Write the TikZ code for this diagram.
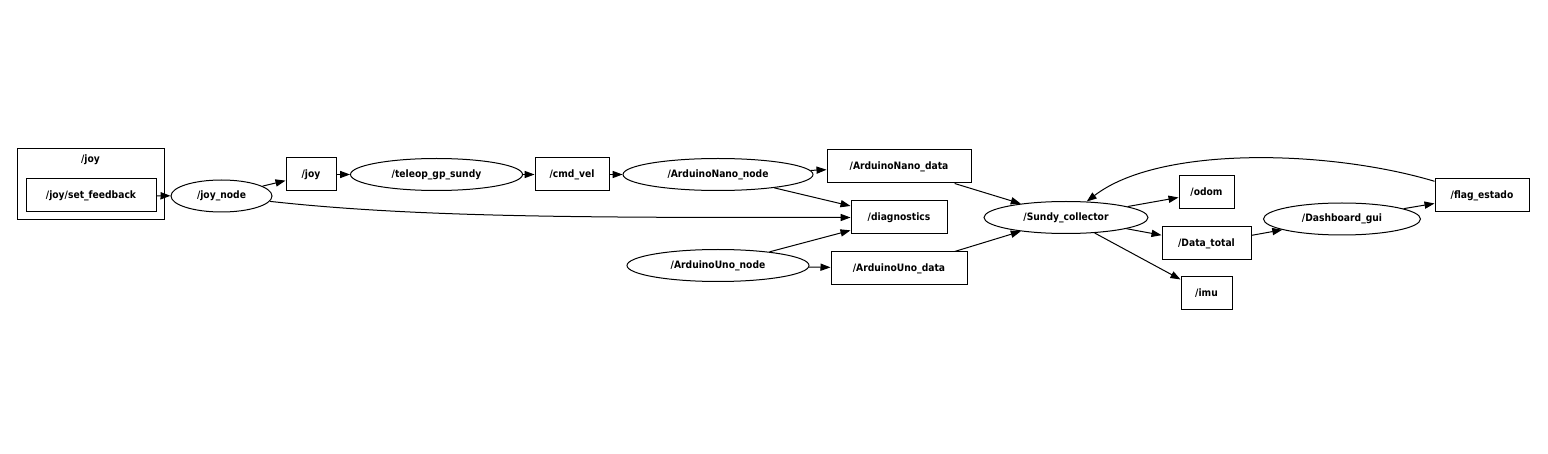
\documentclass[tikz,border=0pt]{standalone}
\usepackage{fontspec}
\setmainfont{DejaVu Sans Condensed}
\usepackage{tikz}
\usetikzlibrary{positioning}
\usetikzlibrary{arrows.meta}
\usetikzlibrary{shapes.geometric}
\tikzset{basic/.style={draw,line width=0.5pt,inner sep=0pt,font=\fontsize{5.1}{6}\selectfont\bfseries}}
\tikzset{topic/.style={basic,rectangle,minimum height=16.5pt}}
\tikzset{rosnode/.style={basic,ellipse,minimum height=16pt}}
\tikzset{cluster/.style={draw,line width=0.5pt,rectangle,inner sep=0pt}}
\tikzset{link/.style={draw,line width=0.5pt,-{Triangle[length=5pt,width=3.6pt]}}}

\begin{document}
\begin{tikzpicture}[x=0.5pt,y=-0.5pt]
        \useasboundingbox (0,0) rectangle (1548,454);
        % joy group
        \node[cluster,minimum width=73.5pt,minimum height=35.5pt] (joy_group) at (90.5,184.5) {};
        \node[font=\fontsize{5.1}{6}\selectfont\bfseries] (joy_label) at (90.5,160) {/joy};
        \node[topic,minimum width=65pt] (set_feedback) at (91,195.5) {/joy/set\_feedback};
        \node[rosnode,minimum width=50.5pt] (joy_node) at (221.5,196) {/joy\_node};
        \node[topic,minimum width=25pt] (joy) at (311,174.5) {/joy};
        \node[rosnode,minimum width=86pt] (teleop) at (436.5,174.5) {/teleop\_gp\_sundy};
        \node[topic,minimum width=37pt] (cmd_vel) at (572,174.5) {/cmd\_vel};
        \node[rosnode,minimum width=95pt] (nano_node) at (718,174.5) {/ArduinoNano\_node};
        \node[topic,minimum width=72pt] (nano_data) at (899,166.5) {/ArduinoNano\_data};
        \node[topic,minimum width=48pt] (diagnostics) at (899,217.5) {/diagnostics};
        \node[rosnode,minimum width=91pt] (uno_node) at (718,265.5) {/ArduinoUno\_node};
        \node[topic,minimum width=68pt] (uno_data) at (899,268.5) {/ArduinoUno\_data};
        \node[rosnode,minimum width=82pt] (collector) at (1066,217.5) {/Sundy\_collector};
        \node[topic,minimum width=27.5pt] (odom) at (1206.5,192.5) {/odom};
        \node[topic,minimum width=44.5pt] (data_total) at (1206.5,243.5) {/Data\_total};
        \node[topic,minimum width=25.5pt] (imu) at (1206.5,293.5) {/imu};
        \node[rosnode,minimum width=78.5pt] (dashboard) at (1342,219) {/Dashboard\_gui};
        \node[topic,minimum width=47pt] (flag) at (1482,195.5) {/flag\_estado};
            \path[link] (set_feedback) -- (joy_node);
            \path[link] (joy_node) -- (joy);
            \path[link] (joy) -- (teleop);
            \path[link] (teleop) -- (cmd_vel);
            \path[link] (cmd_vel) -- (nano_node);
            \path[link] (nano_node) -- (nano_data);
            \path[link] (nano_node) -- (diagnostics);
            \path[link] (joy_node) .. controls (420,218) and (600,217.5) .. (diagnostics);
            \path[link] (uno_node) -- (diagnostics);
            \path[link] (uno_node) -- (uno_data);
            \path[link] (nano_data) -- (collector);
            \path[link] (uno_data) -- (collector);
            \path[link] (collector) -- (odom);
            \path[link] (collector) -- (data_total);
            \path[link] (collector) -- (imu);
            \path[link] (data_total) -- (dashboard);
            \path[link] (dashboard) -- (flag);
            \path[link] (flag) .. controls (1330,150) and (1160,145) .. (collector);
    \end{tikzpicture}
\end{document}
